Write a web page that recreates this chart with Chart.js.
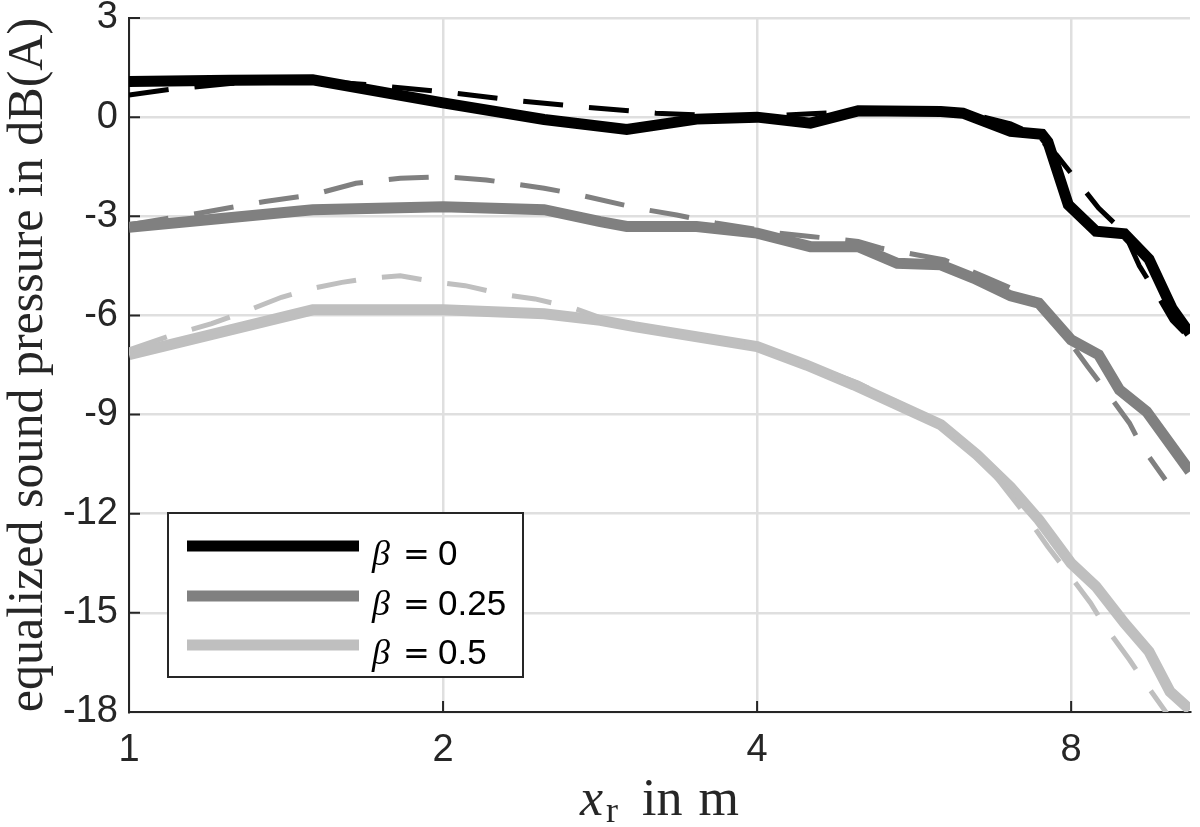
<!DOCTYPE html>
<html lang="en">
<head>
<meta charset="UTF-8">
<title>Equalized sound pressure vs distance</title>
<style>
  html, body { margin: 0; padding: 0; background: #fff; overflow: hidden; }
  canvas { display: block; }
</style>
</head>
<body>
<canvas id="chart" width="1200" height="827"></canvas>
<script src="https://cdn.jsdelivr.net/npm/chart.js@4.4.9/dist/chart.umd.min.js"></script>
<script>
// axis setup
const xTicks = [1, 2, 4, 8];
const xMin = 1, xMax = 10.4;
const yMin = -18, yMax = 3, yStep = 3;

const betaLabels = ['0', '0.25', '0.5'];
const lineColors = ['#000000', '#808080', '#bfbfbf'];

// beta = 0, measured (solid)
const xB0 = [1.0, 1.25, 1.5, 2.0, 2.5, 3.0, 3.5, 4.0, 4.5, 5.0, 6.0, 6.3, 7.0, 7.5, 7.6, 7.95, 8.45, 9.0, 9.5, 10.0, 10.4];
const yB0 = [1.08, 1.12, 1.13, 0.43, -0.07, -0.37, -0.06, 0.0, -0.18, 0.19, 0.17, 0.12, -0.43, -0.52, -0.75, -2.65, -3.45, -3.53, -4.3, -5.8, -6.55];
// beta = 0, model (dashed)
const xB0m = [1.0, 1.1, 1.25, 1.5, 1.7, 2.0, 2.35, 2.7, 3.2, 3.6, 4.0, 4.5, 5.0, 6.0, 6.5, 7.0, 7.4, 7.75, 8.0, 8.5, 9.0, 9.3, 9.6, 10.0, 10.4];
const yB0m = [0.67, 0.85, 1.02, 1.1, 0.98, 0.77, 0.5, 0.32, 0.12, 0.05, 0.02, 0.1, 0.18, 0.17, 0.05, -0.2, -0.55, -1.15, -1.7, -2.75, -3.5, -4.5, -5.2, -6.15, -6.7];

// beta = 0.25
const xB1 = [1.0, 1.5, 2.0, 2.5, 2.83, 3.0, 3.5, 4.0, 4.5, 5.0, 5.45, 6.0, 6.45, 7.0, 7.45, 8.0, 8.5, 8.9, 9.45, 10.4];
const yB1 = [-3.33, -2.8, -2.71, -2.8, -3.16, -3.31, -3.31, -3.51, -3.92, -3.92, -4.42, -4.47, -4.87, -5.41, -5.63, -6.74, -7.19, -8.25, -8.91, -10.72];
const xB1m = [1.0, 1.17, 1.35, 1.5, 1.65, 1.82, 2.0, 2.2, 2.5, 2.7, 3.1, 3.35, 3.65, 4.2, 4.5, 5.0, 5.25, 5.7, 6.05, 6.6, 7.0, 7.45, 7.95, 8.3, 8.6, 9.1, 9.35, 9.85];
const yB1m = [-3.26, -2.9, -2.55, -2.35, -2.0, -1.85, -1.8, -1.9, -2.15, -2.35, -2.78, -2.96, -3.2, -3.51, -3.61, -3.76, -3.96, -4.17, -4.32, -4.82, -5.17, -5.58, -6.74, -7.55, -8.2, -9.26, -9.97, -10.97];

// beta = 0.5
const xB2 = [1.0, 1.5, 2.0, 2.5, 2.83, 3.05, 4.0, 4.46, 4.95, 6.0, 6.5, 7.0, 7.45, 8.0, 8.45, 9.0, 9.5, 9.95, 10.4];
const yB2 = [-7.19, -5.83, -5.83, -5.95, -6.15, -6.34, -6.94, -7.5, -8.1, -9.31, -10.22, -11.2, -12.18, -13.5, -14.2, -15.31, -16.17, -17.38, -17.93];
const xB2m = [1.0, 1.1, 1.2, 1.3, 1.4, 1.5, 1.6, 1.7, 1.82, 1.98, 2.1, 2.3, 2.45, 2.67, 2.85, 3.05, 4.0, 5.0, 6.0, 6.5, 7.2, 7.6, 7.9, 8.35, 8.6, 9.1, 9.4, 9.85, 9.95];
const yB2m = [-7.04, -6.59, -6.25, -5.85, -5.45, -5.18, -5.0, -4.87, -4.8, -5.0, -5.1, -5.38, -5.5, -5.78, -6.1, -6.3, -6.9, -8.05, -9.25, -10.15, -11.95, -13.0, -13.69, -14.7, -15.36, -16.42, -17.08, -17.98, -18.2];

const solidX = [xB0, xB1, xB2], solidY = [yB0, yB1, yB2];
const dashX = [xB0m, xB1m, xB2m], dashY = [yB0m, yB1m, yB2m];

function points(xs, ys) {
    return xs.map((x, i) => ({ x: x, y: ys[i] }));
}

const datasets = [];
for (let i = 0; i < 3; i++) {
    datasets.push({
        label: 'beta = ' + betaLabels[i],
        data: points(solidX[i], solidY[i]),
        borderColor: lineColors[i],
        borderWidth: 11,
        pointRadius: 0,
        tension: 0,
        order: 1
    });
    datasets.push({
        label: 'beta = ' + betaLabels[i] + ' (model)',
        data: points(dashX[i], dashY[i]),
        borderColor: lineColors[i],
        borderWidth: 5,
        borderDash: [40, 26],
        pointRadius: 0,
        tension: 0,
        order: 0
    });
}

const AXIS = '#262626';

// titles, legend and inward tick marks drawn on top of the chart
const overlay = {
    id: 'overlay',
    afterDraw(chart) {
        const ctx = chart.ctx;
        const xs = chart.scales.x, ys = chart.scales.y;
        const area = chart.chartArea;
        ctx.save();

        ctx.strokeStyle = AXIS;
        ctx.lineWidth = 2;
        ctx.beginPath();
        ys.ticks.forEach(t => {
            const p = ys.getPixelForValue(t.value);
            ctx.moveTo(area.left, p);
            ctx.lineTo(area.left + 11, p);
        });
        xs.ticks.forEach(t => {
            const p = xs.getPixelForValue(t.value);
            ctx.moveTo(p, area.bottom);
            ctx.lineTo(p, area.bottom - 11);
        });
        ctx.stroke();

        // y title
        ctx.fillStyle = AXIS;
        ctx.save();
        ctx.translate(42, 365);
        ctx.rotate(-Math.PI / 2);
        ctx.font = '50px "Liberation Serif"';
        ctx.textAlign = 'center';
        ctx.textBaseline = 'alphabetic';
        ctx.fillText('equalized sound pressure in dB(A)', 0, 0);
        ctx.restore();

        // x title: x_r in m, centred under the plot
        ctx.textAlign = 'left';
        ctx.textBaseline = 'alphabetic';
        const bigX = 'italic 52px "Liberation Serif"';
        const sub = '36px "Liberation Serif"';
        const big = '52px "Liberation Serif"';
        ctx.font = bigX; const wx = ctx.measureText('x').width;
        ctx.font = sub; const wr = ctx.measureText('r').width;
        ctx.font = big; const wi = ctx.measureText('in').width, wm = ctx.measureText('m').width;
        const total = wx + 3 + wr + 24 + wi + 16 + wm;
        let tx = (area.left + area.right) / 2 - total / 2;
        ctx.font = bigX; ctx.fillText('x', tx, 815); tx += wx + 3;
        ctx.font = sub; ctx.fillText('r', tx, 822); tx += wr + 24;
        ctx.font = big; ctx.fillText('in', tx, 815); tx += wi + 16;
        ctx.fillText('m', tx, 815);

        // legend
        ctx.fillStyle = '#ffffff';
        ctx.fillRect(168, 513, 355, 164);
        ctx.strokeStyle = AXIS;
        ctx.lineWidth = 2;
        ctx.strokeRect(168, 513, 355, 164);
        const rows = [546, 596, 645];
        for (let i = 0; i < 3; i++) {
            ctx.strokeStyle = lineColors[i];
            ctx.lineWidth = 11;
            ctx.beginPath();
            ctx.moveTo(187, rows[i]);
            ctx.lineTo(359, rows[i]);
            ctx.stroke();
            const base = rows[i] + 19;
            ctx.fillStyle = '#000';
            ctx.font = 'italic 36px "Liberation Serif"';
            ctx.fillText('\u03B2', 372, base);
            ctx.font = '32px "DejaVu Sans"';
            ctx.fillText('=', 403, base);
            ctx.font = '35px "Liberation Sans"';
            ctx.fillText(betaLabels[i], 438, base);
        }
        ctx.restore();
    }
};

new Chart(document.getElementById('chart'), {
    type: 'line',
    data: { datasets: datasets },
    options: {
        responsive: false,
        devicePixelRatio: 1,
        animation: false,
        layout: { padding: { top: 18, right: 10, left: 0, bottom: 0 } },
        plugins: {
            legend: { display: false },
            tooltip: { enabled: false }
        },
        scales: {
            x: {
                type: 'logarithmic',
                min: xMin,
                max: xMax,
                afterBuildTicks: scale => {
                    scale.ticks = xTicks.map(v => ({ value: v }));
                },
                afterFit: scale => { scale.height = 115; },
                ticks: {
                    callback: v => String(v),
                    color: AXIS,
                    padding: 16,
                    maxRotation: 0,
                    font: { family: '"Liberation Sans"', size: 38 }
                },
                grid: { color: '#dfdfdf', lineWidth: 2.5, drawTicks: false },
                border: { color: AXIS, width: 2 }
            },
            y: {
                min: yMin,
                max: yMax,
                afterFit: scale => { scale.width = 129; },
                ticks: {
                    stepSize: yStep,
                    color: AXIS,
                    padding: 11,
                    font: { family: '"Liberation Sans"', size: 38, lineHeight: 0.35 }
                },
                grid: { color: '#dfdfdf', lineWidth: 2.5, drawTicks: false },
                border: { color: AXIS, width: 2 }
            }
        }
    },
    plugins: [overlay]
});
</script>
</body>
</html>
